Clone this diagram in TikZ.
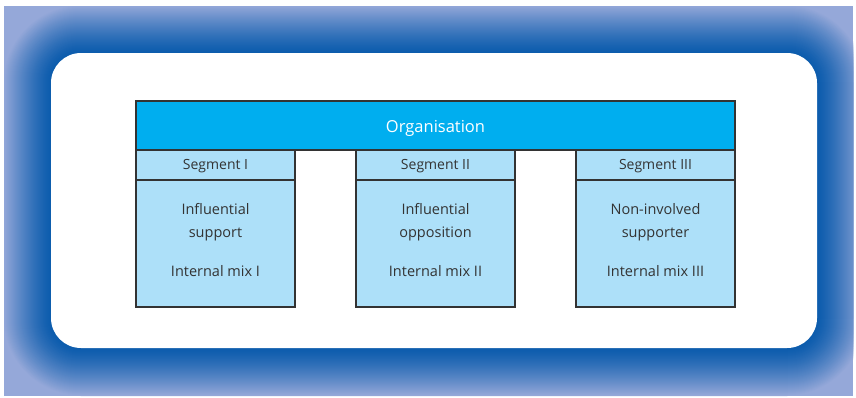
\documentclass[tikz,border=0pt]{standalone}
\usepackage{fontspec}
\setmainfont{Open Sans}
\definecolor{frdark}{HTML}{0C5CAD}
\definecolor{frlight}{HTML}{95A8D9}
\definecolor{orgblue}{HTML}{00AEEF}
\definecolor{seglight}{HTML}{ADE0F9}
\definecolor{txtgray}{HTML}{333333}
\definecolor{edgegray}{HTML}{333333}
\tikzset{
  boxline/.style={draw=edgegray, line width=1.2pt},
  orgbar/.style={boxline, fill=orgblue, rectangle, minimum width=599pt, minimum height=49pt, inner sep=0pt},
  seghead/.style={boxline, fill=seglight, rectangle, minimum width=159pt, minimum height=30pt, inner sep=0pt},
  segbody/.style={boxline, fill=seglight, rectangle, minimum width=159pt, minimum height=127pt, inner sep=0pt},
  orgtxt/.style={text=white, inner sep=0pt, font=\fontsize{16.5}{18}\selectfont},
  headtxt/.style={text=txtgray, inner sep=0pt, font=\fontsize{14}{16}\selectfont},
  bodytxt/.style={text=txtgray, align=center, inner sep=0pt, font=\fontsize{14.5}{22.5}\selectfont},
}
\begin{document}
\begin{tikzpicture}[x=1pt,y=-1pt]
\useasboundingbox (0,0) rectangle (856,397);
\fill[white] (0,0) rectangle (856,397);
\begin{scope}
\clip (4,6) rectangle (853,396);
\fill[frlight] (4,6) rectangle (853,396);
\foreach \d in {48,47,...,0}{
  \pgfmathsetmacro\p{100*(\d/48)^1.3}
  \fill[frlight!\p!frdark, rounded corners={30+\d}] (51-\d,53-\d) rectangle (817+\d,348+\d);
}
\end{scope}
\fill[white, rounded corners=30] (51,53) rectangle (817,348);

\node[orgbar] (org) at (435.5,125.5) {};
\node[orgtxt] (orgt) at (435.5,128) {Organisation};

\node[seghead] (h1) at (215.5,165) {};
\node[headtxt] (h1t) at (215.5,166.5) {Segment I};
\node[segbody] (s1) at (215.5,243.5) {};
\node[bodytxt] (t1) at (215.5,222) {Influential\\support};
\node[bodytxt] (m1) at (215.5,271.5) {Internal mix I};

\node[seghead] (h2) at (435.5,165) {};
\node[headtxt] (h2t) at (435.5,166.5) {Segment II};
\node[segbody] (s2) at (435.5,243.5) {};
\node[bodytxt] (t2) at (435.5,222) {Influential\\opposition};
\node[bodytxt] (m2) at (435.5,271.5) {Internal mix II};

\node[seghead] (h3) at (655.5,165) {};
\node[headtxt] (h3t) at (655.5,166.5) {Segment III};
\node[segbody] (s3) at (655.5,243.5) {};
\node[bodytxt] (t3) at (655.5,222) {Non-involved\\supporter};
\node[bodytxt] (m3) at (655.5,271.5) {Internal mix III};
\end{tikzpicture}
\end{document}
